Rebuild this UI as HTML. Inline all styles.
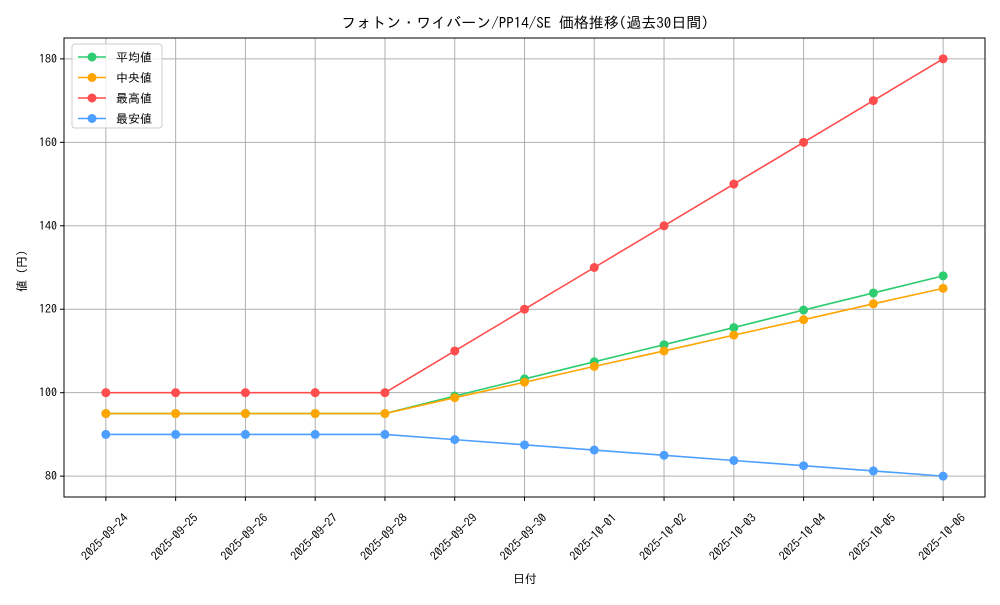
<!DOCTYPE html>
<html><head><meta charset="utf-8"><style>
body{margin:0;background:#fff;}
svg text{font-family:"IPAGothic","Noto Sans CJK JP",sans-serif;fill:#000;}
</style></head><body>
<svg id="chart" width="1000" height="600" xmlns="http://www.w3.org/2000/svg">
<rect x="0" y="0" width="1000" height="600" fill="#fff"/>
<text x="525" y="28" font-size="15" text-anchor="middle">フォトン・ワイバーン/PP14/SE 価格推移(過去30日間)</text>
<text x="525" y="583" font-size="12" text-anchor="middle">日付</text>
<text x="26" y="268" font-size="12" text-anchor="middle" transform="rotate(-90 26 268)">値（円）</text>
<g id="grid"></g><g id="axes"></g><g id="series"></g>
<g>
<rect x="72" y="44" width="90" height="84" fill="#fff" fill-opacity="0.8" stroke="#ccc" rx="3"/>
<g id="legend"></g>
</g>
</svg>
<script>
const dates=["2025-09-24","2025-09-25","2025-09-26","2025-09-27","2025-09-28","2025-09-29","2025-09-30","2025-10-01","2025-10-02","2025-10-03","2025-10-04","2025-10-05","2025-10-06"];
const meanVals=[95,95,95,95,95,99.2,103.3,107.4,111.5,115.6,119.8,123.9,128];
const medianVals=[95,95,95,95,95,98.8,102.5,106.3,110,113.8,117.5,121.3,125];
const maxVals=[100,100,100,100,100,110,120,130,140,150,160,170,180];
const minVals=[90,90,90,90,90,88.75,87.5,86.25,85,83.75,82.5,81.25,80];
const yTicks=[80,100,120,140,160,180];
const names=["平均値","中央値","最高値","最安値"];
const colors=["#2ecc71","#ffa500","#ff4d4d","#4d9fff"];
const NS="http://www.w3.org/2000/svg";
const L=64,R=985,T=38,B=497;
const n=dates.length;
function xs(i){return L+(i+0.6)*(R-L)/(n-1+1.2);}
function ys(v){return B-(v-75)*(B-T)/110;}
function mk(tag,attrs,parent){const e=document.createElementNS(NS,tag);for(const k in attrs)e.setAttribute(k,attrs[k]);parent.appendChild(e);return e;}
const grid=document.getElementById('grid'),axes=document.getElementById('axes'),ser=document.getElementById('series'),leg=document.getElementById('legend');
dates.forEach((d,i)=>{const x=xs(i);
 const g=mk('line',{x1:x,x2:x,y1:T,y2:B,stroke:'#b0b0b0','stroke-width':1},grid);
 
 
 mk('line',{x1:x,x2:x,y1:B,y2:B+4,stroke:'#000'},axes);
 const cx=x-1,cy=537;
 const t=mk('text',{x:cx,y:cy+4,'font-size':12,'text-anchor':'middle',transform:`rotate(-45 ${cx} ${cy})`},axes);
 t.textContent=d;
 
 
});
yTicks.forEach(v=>{const y=ys(v);
 const g=mk('line',{x1:L,x2:R,y1:y,y2:y,stroke:'#b0b0b0','stroke-width':1},grid);
 
 
 mk('line',{x1:L-4,x2:L,y1:y,y2:y,stroke:'#000'},axes);
 const t=mk('text',{x:L-7,y:y+4,'font-size':12,'text-anchor':'end'},axes);
 t.textContent=v;
 
 
});
const fr=mk('rect',{x:L,y:T,width:R-L,height:B-T,fill:'none',stroke:'#000','stroke-width':1},axes);


[meanVals,medianVals,maxVals,minVals].forEach((vals,s)=>{
 const g=mk('g',{},ser);
 
 
 mk('polyline',{points:vals.map((v,i)=>xs(i)+','+ys(v)).join(' '),fill:'none',stroke:colors[s],'stroke-width':1.6},g);
 vals.forEach((v,i)=>{const c=mk('circle',{cx:xs(i),cy:ys(v),r:4.5,fill:colors[s]},g);
  
  });
 const y=57+s*20.5;
 const le=mk('g',{},leg);
 
 
 mk('line',{x1:78,x2:106,y1:y,y2:y,stroke:colors[s],'stroke-width':1.6},le);
 mk('circle',{cx:92,cy:y,r:4.5,fill:colors[s]},le);
 const t=mk('text',{x:116,y:y+4.5,'font-size':12},le);t.textContent=names[s];
});
</script>
</body></html>
